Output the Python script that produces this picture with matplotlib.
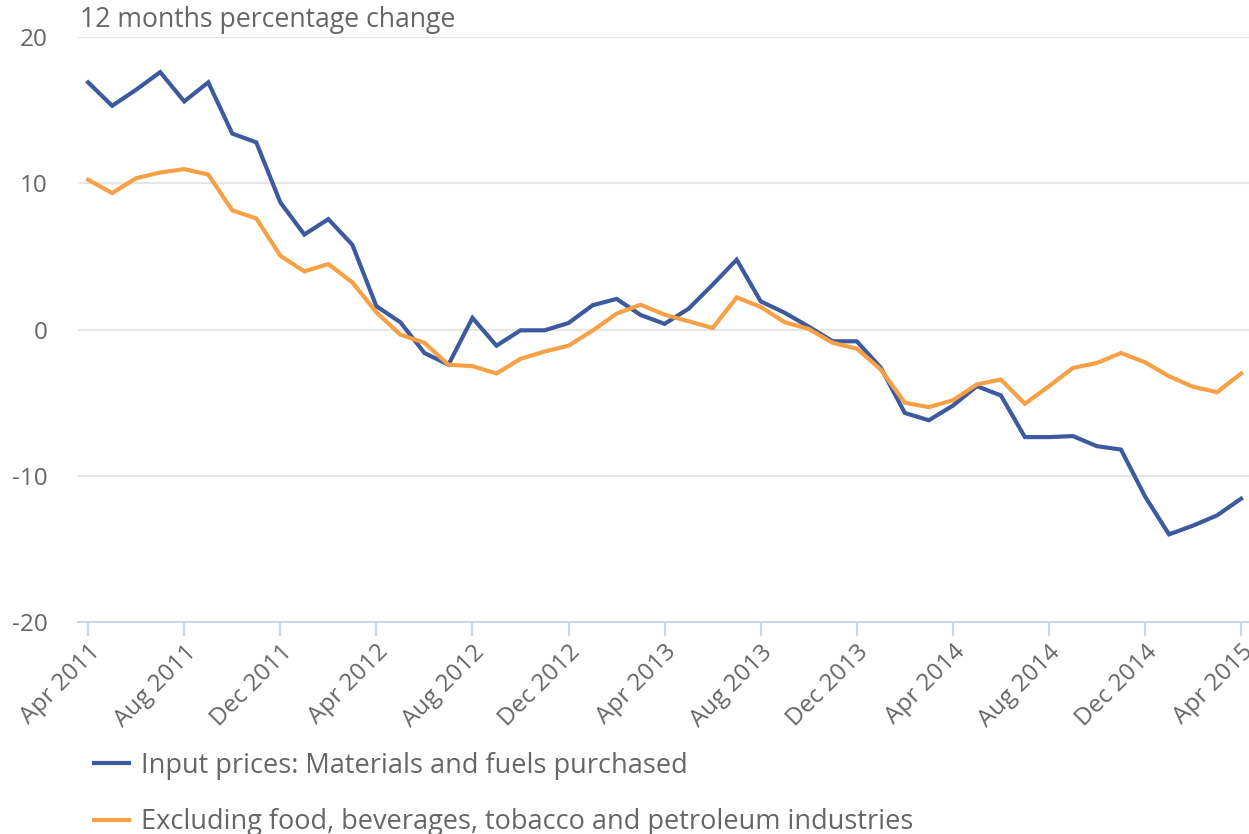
import matplotlib
matplotlib.use('Agg')
import matplotlib.pyplot as plt
import numpy as np

# monthly, Apr 2011 .. Apr 2015
input_prices = [16.9, 15.3, 16.4, 17.6, 15.6, 16.9, 13.4, 12.8, 8.7, 6.5,
                7.55, 5.8, 1.6, 0.5, -1.6, -2.4, 0.8, -1.1, -0.05, -0.05,
                0.45, 1.66, 2.1, 1.0, 0.39, 1.43, 3.07, 4.78, 1.93, 1.15,
                0.2, -0.8, -0.8, -2.6, -5.7, -6.2, -5.2, -3.87, -4.5, -7.35,
                -7.35, -7.28, -7.97, -8.2, -11.4, -14.0, -13.4, -12.7, -11.56]
excl_food = [10.24, 9.33, 10.35, 10.74, 10.97, 10.6, 8.15, 7.6, 5.05, 3.98,
             4.48, 3.23, 1.18, -0.35, -0.9, -2.4, -2.5, -3.0, -2.0, -1.5,
             -1.1, -0.07, 1.09, 1.7, 1.02, 0.57, 0.11, 2.2, 1.55, 0.5,
             0.05, -0.91, -1.3, -2.73, -5.0, -5.3, -4.83, -3.75, -3.41, -5.07,
             -3.87, -2.62, -2.28, -1.6, -2.23, -3.19, -3.91, -4.28, -3.0]
tick_labels = ['Apr 2011', 'Aug 2011', 'Dec 2011', 'Apr 2012', 'Aug 2012',
               'Dec 2012', 'Apr 2013', 'Aug 2013', 'Dec 2013', 'Apr 2014',
               'Aug 2014', 'Dec 2014', 'Apr 2015']
series_names = ['Input prices: Materials and fuels purchased',
                'Excluding food, beverages, tobacco and petroleum industries']

plt.rcParams['font.family'] = ['Open Sans', 'DejaVu Sans']
plt.rcParams['axes.unicode_minus'] = False
text_col = '#666666'

fig = plt.figure(figsize=(12.49, 8.34), dpi=100)
ax = fig.add_axes([0.0625, 0.254, 0.9375, 0.7016])

x = np.arange(len(input_prices))
l1, = ax.plot(x, input_prices, color='#3d5a9e', lw=3, solid_joinstyle='miter')
l2, = ax.plot(x, excl_food, color='#f7a046', lw=3, solid_joinstyle='miter')

ax.set_xlim(-0.42, 48.33)
ax.set_ylim(-20, 20)
ax.set_yticks([-20, -10, 0, 10, 20])
ax.yaxis.grid(True, color='#e6e6e6', lw=1.5)
ax.set_axisbelow(True)
ax.set_xticks(np.arange(0, 49, 4))
ax.set_xticklabels(tick_labels, rotation=45, ha='right', rotation_mode='anchor')

for s in ['top', 'right', 'left']:
    ax.spines[s].set_visible(False)
ax.spines['bottom'].set_color('#ccd6eb')
ax.spines['bottom'].set_linewidth(1.5)
ax.tick_params(axis='x', colors='#ccd6eb', length=10, width=1.5,
               labelcolor=text_col, labelsize=17.5, pad=3)
ax.tick_params(axis='y', length=0, labelcolor=text_col, labelsize=17.5, pad=22)

fig.text(0.064, 0.976, '12 months percentage change', color=text_col,
         fontsize=19.2, ha='left', va='center')

fig.legend([l1, l2], series_names, loc='upper left',
           bbox_to_anchor=(0.075, 0.0985), bbox_transform=fig.transFigure,
           frameon=False, fontsize=19.5, labelcolor=text_col,
           handlelength=1.3, handletextpad=0.45, labelspacing=1.05,
           borderpad=0, borderaxespad=0)

fig.savefig('out.png', dpi=100)
